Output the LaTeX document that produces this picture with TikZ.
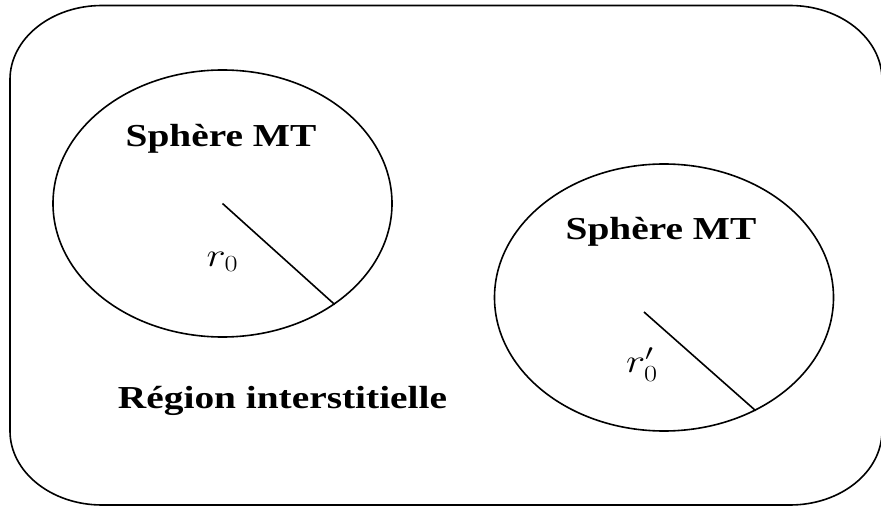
\documentclass[tikz,border=0pt]{standalone}
\usepackage{fontspec}
\setmainfont{Liberation Serif}
\newfontfamily\wideserif[FakeStretch=1.23]{Liberation Serif}
\usetikzlibrary{shapes.geometric}

\tikzset{every picture/.style={line width=0.75pt}}
\tikzset{
  sphereshape/.style={draw, ellipse, line width=1.2, inner sep=0pt, minimum width=254.25pt, minimum height=200.25pt},
  spheretext/.style={anchor=base, inner sep=0.75pt, font=\wideserif\bfseries\fontsize{24}{28}\selectfont},
  radtext/.style={anchor=base, inner sep=0.75pt, font=\fontsize{24}{28}\selectfont},
  radline/.style={line width=1.2},
  frameline/.style={line width=1.2}
}

\begin{document}
\begin{tikzpicture}[x=0.75pt,y=0.75pt,yscale=-1,xscale=1]
\clip (0,0) rectangle (881,509); %set diagram 881 x 509

%Rounded Rect
\draw [frameline] (102,5.5) -- (790,5.5) arc [start angle=-90, end angle=0, x radius=92, y radius=74] -- (882,431) arc [start angle=0, end angle=90, x radius=92, y radius=74] -- (102,505) arc [start angle=90, end angle=180, x radius=92, y radius=74] -- (10,79.5) arc [start angle=180, end angle=270, x radius=92, y radius=74] -- cycle ;

%Shape: Ellipse
\node [sphereshape] (sphL) at (222.5,203.5) {};
%Shape: Ellipse
\node [sphereshape] (sphR) at (664,297.5) {};

%Straight Lines
\draw [radline] (sphL.center) -- (sphL.-42) ;
%Straight Lines
\coordinate (radR) at (644,312);
\draw [radline] (radR) -- (sphR.-51) ;

% Text Node
\node [spheretext] (txtL) at (221,147) {Sphère MT};
% Text Node
\node [spheretext] (txtR) at (661,240) {Sphère MT};
% Text Node
\node [spheretext] (txtReg) at (282.5,408) {Région interstitielle};
% Text Node
\node [radtext] (rL) at (222.5,267) {\scalebox{1.23}[1]{$r_{0}$}};
% Text Node
\node [radtext] (rR) at (642,373) {\scalebox{1.23}[1]{$r_{0}'$}};

\end{tikzpicture}
\end{document}
